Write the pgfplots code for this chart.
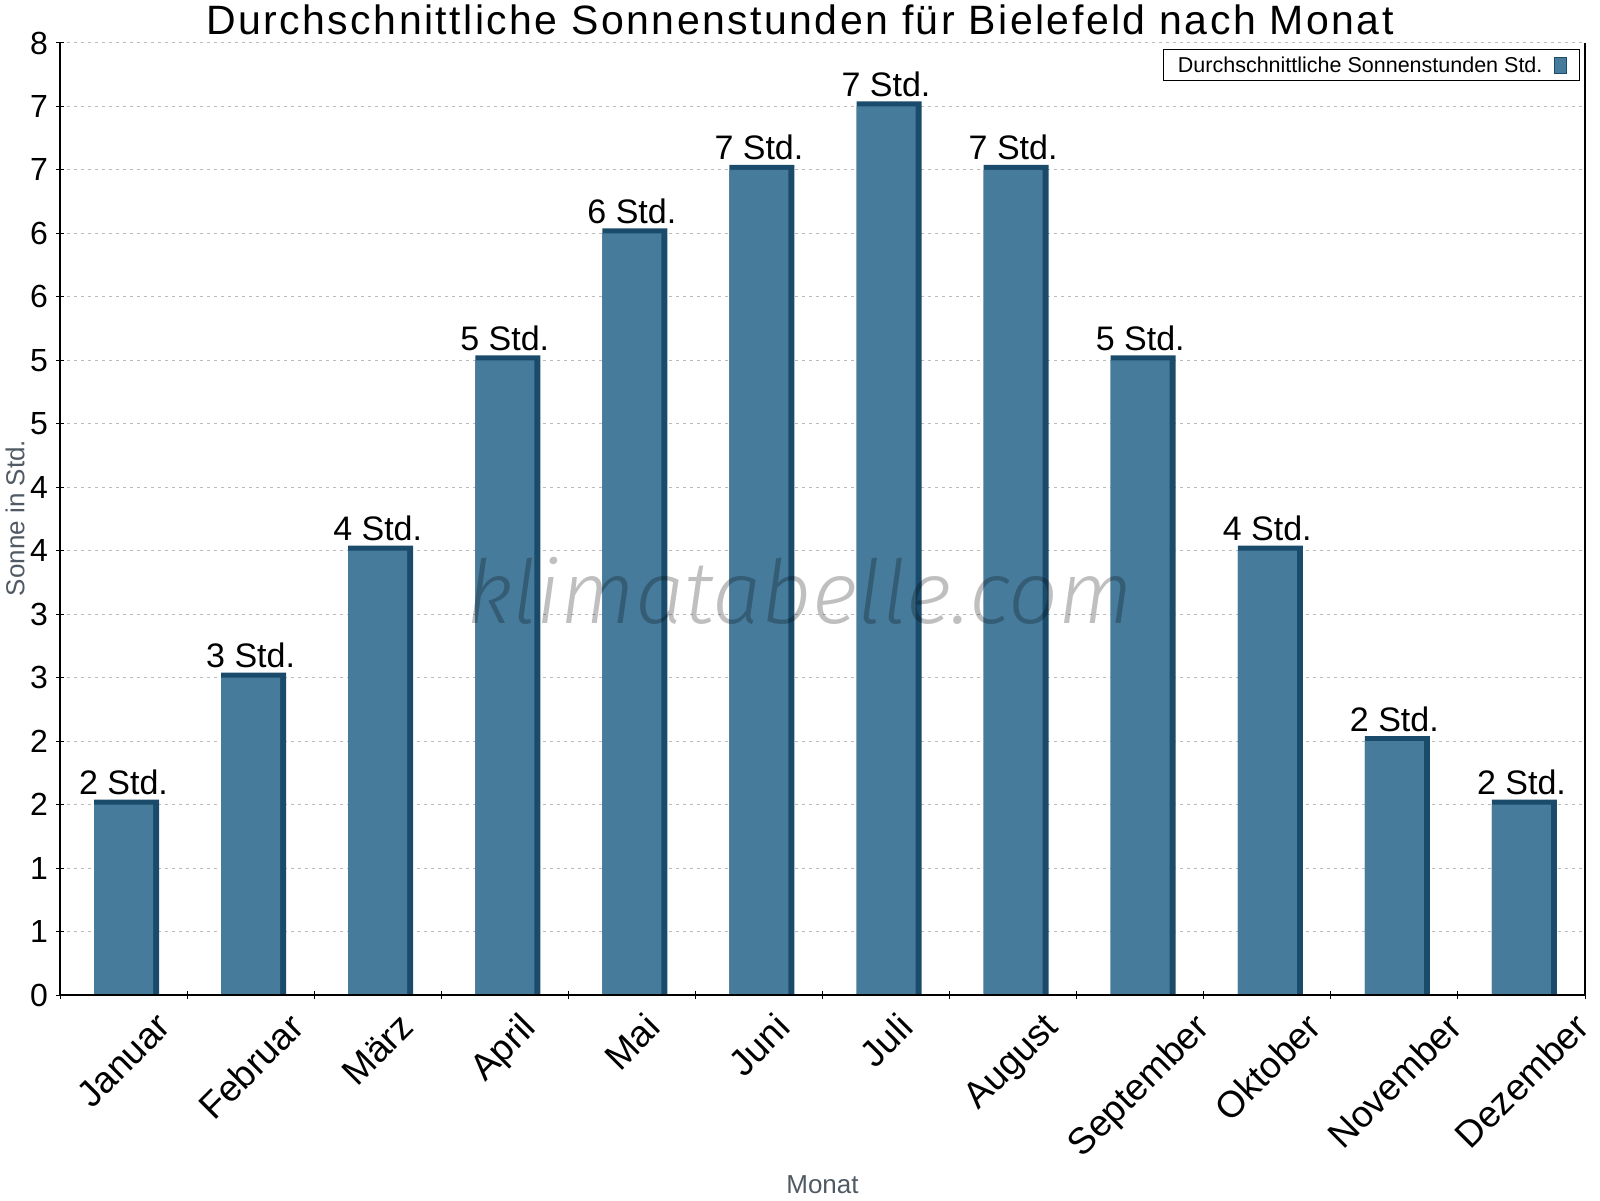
\documentclass[border=0pt]{standalone}
\usepackage{fontspec}
\setmainfont{Liberation Sans}
\newfontfamily\titlefont{Liberation Sans}[LetterSpace=6]
\newfontfamily\wmfont{Fira Sans Light Italic}
\usepackage{graphicx}
\usepackage{pgfplots}
\pgfplotsset{compat=1.18}
\definecolor{barfront}{HTML}{467B9C}
\definecolor{barside}{HTML}{1A4B6B}
\definecolor{labelgray}{HTML}{505A64}
\definecolor{gridgray}{HTML}{BBBBBB}

\begin{document}
\begin{tikzpicture}
\useasboundingbox (0,0) rectangle (1600pt,1200pt);
\begin{axis}[
  at={(60pt,205pt)}, anchor=south west,
  scale only axis, width=1525pt, height=952pt,
  xmin=-0.5, xmax=11.5, ymin=0, ymax=7.5,
  clip=false,
  axis line style={draw=none},
  xtick={0,...,11},
  xticklabels={\rotatebox{45}{Januar},\rotatebox{45}{Februar},\rotatebox{45}{März},
    \rotatebox{45}{April},\rotatebox{45}{Mai},\rotatebox{45}{Juni},\rotatebox{45}{Juli},
    \rotatebox{45}{August},\rotatebox{45}{September},\rotatebox{45}{Oktober},
    \rotatebox{45}{November},\rotatebox{45}{Dezember}},
  minor xtick={-0.5,0.5,...,11.5},
  major x tick style={draw=none},
  xtick pos=left, ytick pos=left,
  ytick={0,0.5,...,7.5},
  yticklabels={0,1,1,2,2,3,3,4,4,5,5,6,6,7,7,8},
  tick align=center, major tick length=8pt, minor tick length=8pt,
  tick style={black, line width=1pt},
  ymajorgrids,
  major grid style={gridgray, dash pattern=on 3pt off 4pt, line width=1pt},
  xticklabel style={anchor=north, inner sep=0pt, yshift=-12pt, font=\fontsize{37}{40}\selectfont},
  yticklabel style={anchor=east, inner sep=0pt, xshift=-8pt, font=\fontsize{32}{36}\selectfont},
  title={\titlefont Durchschnittliche Sonnenstunden für Bielefeld nach Monat},
  every axis title shift=0pt,
  title style={at={(axis description cs:0.4852,1.009)}, anchor=base, yshift=0pt, inner sep=0pt, font=\fontsize{41}{45}\selectfont},
  xlabel={Monat},
  xlabel style={at={(axis description cs:0.5,-0.1996)}, anchor=center, inner sep=0pt, text=labelgray, font=\fontsize{26}{30}\selectfont},
  ylabel={Sonne in Std.},
  ylabel style={at={(axis description cs:-0.0295,0.501)}, anchor=center, inner sep=0pt, text=labelgray, font=\fontsize{26}{30}\selectfont},
  legend plot pos=right,
  legend style={at={(0.9967,0.9937)}, anchor=north east, draw=black, line width=1pt,
    font=\fontsize{21.5}{25}\selectfont, inner xsep=12pt, inner ysep=5pt,
    /tikz/column sep=10pt},
  legend image code/.code={\draw[fill=barfront, draw=barside, line width=1pt] (0pt,-8pt) rectangle (12pt,8pt);},
]
% dunkle Seite und Oberkante
\addplot[ybar, bar width=65pt, bar shift=3pt, fill=barside, draw=none, forget plot]
  coordinates {(0,1.54) (1,2.54) (2,3.54) (3,5.04) (4,6.04) (5,6.54)
               (6,7.04) (7,6.54) (8,5.04) (9,3.54) (10,2.04) (11,1.54)};
% Vorderseite
\addplot[ybar, bar width=59pt, bar shift=0pt, fill=barfront, draw=none,
  point meta=explicit symbolic,
  nodes near coords={\pgfplotspointmeta{} Std.},
  nodes near coords style={anchor=base, yshift=10pt, inner sep=0pt, black, font=\fontsize{34}{38}\selectfont}]
  coordinates {(0,1.5)[2] (1,2.5)[3] (2,3.5)[4] (3,5.0)[5] (4,6.0)[6] (5,6.5)[7]
               (6,7.0)[7] (7,6.5)[7] (8,5.0)[5] (9,3.5)[4] (10,2.0)[2] (11,1.5)[2]};
\addlegendentry{Durchschnittliche Sonnenstunden Std.}
\draw[line width=1.5pt] (rel axis cs:0,1) -- (rel axis cs:0,0) -- (rel axis cs:1,0) -- (rel axis cs:1,1);
\node[anchor=base, inner sep=0pt, black, opacity=0.25, font=\wmfont\fontsize{88}{90}\selectfont]
  at (rel axis cs:0.485,0.39) {klimatabelle.com};
\end{axis}
\end{tikzpicture}
\end{document}
